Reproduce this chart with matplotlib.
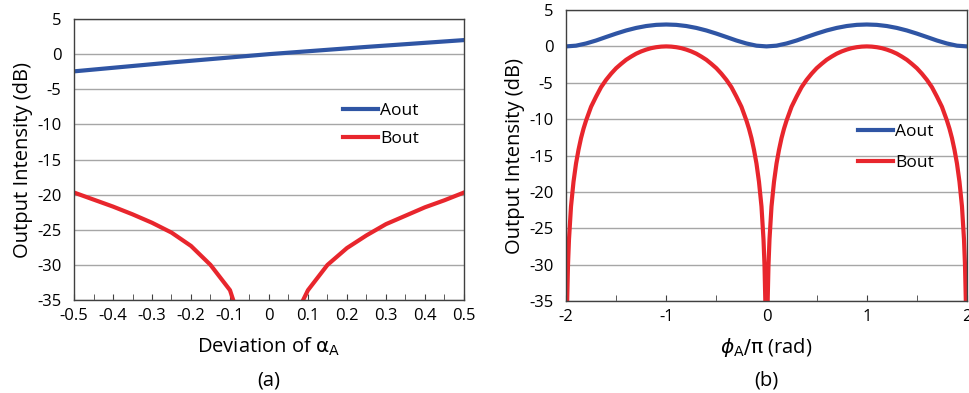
import numpy as np
import matplotlib
matplotlib.use("Agg")
import matplotlib.pyplot as plt
from matplotlib.ticker import MultipleLocator, FuncFormatter

plt.rcParams['font.family'] = ['Open Sans', 'DejaVu Sans']
plt.rcParams['axes.unicode_minus'] = False
plt.rcParams['mathtext.fontset'] = 'dejavusans'

BLUE = '#2f55a4'
RED = '#e8262d'

# ---- panel (a): deviation of alpha_A
dev_a = [-0.5, -0.25, 0.0, 0.25, 0.5]
aout_a = [-2.45, -1.18, 0.0, 1.03, 2.0]

dev_b = [-0.5, -0.45, -0.4, -0.35, -0.3, -0.25, -0.2, -0.15, -0.1, -0.09,
         0.0,
         0.085, 0.1, 0.15, 0.2, 0.25, 0.3, 0.35, 0.4, 0.45, 0.5]
bout_a = [-19.7, -20.7, -21.7, -22.8, -24.0, -25.4, -27.3, -30.0, -33.6, -35.3,
          -60.0,
          -35.3, -33.6, -30.0, -27.6, -25.8, -24.2, -23.0, -21.8, -20.8, -19.7]

# ---- panel (b): phase phi_A / pi
phi_a = [-2.0, -1.9, -1.8, -1.7, -1.6, -1.5, -1.4, -1.3, -1.2, -1.1, -1.0,
         -0.9, -0.8, -0.7, -0.6, -0.5, -0.4, -0.3, -0.2, -0.1, 0.0,
         0.1, 0.2, 0.3, 0.4, 0.5, 0.6, 0.7, 0.8, 0.9, 1.0,
         1.1, 1.2, 1.3, 1.4, 1.5, 1.6, 1.7, 1.8, 1.9, 2.0]
aout_b = [0.0, 0.1, 0.4, 0.81, 1.29, 1.76, 2.19, 2.54, 2.8, 2.96, 3.01,
          2.96, 2.8, 2.54, 2.19, 1.76, 1.29, 0.81, 0.4, 0.1, 0.0,
          0.1, 0.4, 0.81, 1.29, 1.76, 2.19, 2.54, 2.8, 2.96, 3.01,
          2.96, 2.8, 2.54, 2.19, 1.76, 1.29, 0.81, 0.4, 0.1, 0.0]

phi_b = [-2.0, -1.995, -1.99, -1.98, -1.97, -1.95, -1.925, -1.9, -1.875, -1.85,
         -1.825, -1.8, -1.75, -1.7, -1.65, -1.6, -1.55, -1.5, -1.45, -1.4,
         -1.35, -1.3, -1.25, -1.2, -1.15, -1.1, -1.05, -1.0,
         -0.95, -0.9, -0.85, -0.8, -0.75, -0.7, -0.65, -0.6, -0.55, -0.5,
         -0.45, -0.4, -0.35, -0.3, -0.25, -0.2, -0.175, -0.15, -0.125, -0.1,
         -0.075, -0.05, -0.03, -0.02, -0.01, -0.005, 0.0,
         0.005, 0.01, 0.02, 0.03, 0.05, 0.075, 0.1, 0.125, 0.15,
         0.175, 0.2, 0.25, 0.3, 0.35, 0.4, 0.45, 0.5, 0.55, 0.6,
         0.65, 0.7, 0.75, 0.8, 0.85, 0.9, 0.95, 1.0,
         1.05, 1.1, 1.15, 1.2, 1.25, 1.3, 1.35, 1.4, 1.45, 1.5,
         1.55, 1.6, 1.65, 1.7, 1.75, 1.8, 1.825, 1.85, 1.875, 1.9,
         1.925, 1.95, 1.97, 1.98, 1.99, 1.995, 2.0]
bout_b = [-60, -42, -36, -30, -26.5, -22, -18.6, -16.1, -14.2, -12.6,
          -11.3, -10.2, -8.3, -6.9, -5.6, -4.6, -3.75, -3.0, -2.4, -1.84,
          -1.4, -1.0, -0.69, -0.44, -0.24, -0.11, -0.03, 0.0,
          -0.03, -0.11, -0.24, -0.44, -0.69, -1.0, -1.4, -1.84, -2.4, -3.0,
          -3.75, -4.6, -5.6, -6.9, -8.3, -10.2, -11.3, -12.6, -14.2, -16.1,
          -18.6, -22, -26.5, -30, -36, -42, -60,
          -42, -36, -30, -26.5, -22, -18.6, -16.1, -14.2, -12.6,
          -11.3, -10.2, -8.3, -6.9, -5.6, -4.6, -3.75, -3.0, -2.4, -1.84,
          -1.4, -1.0, -0.69, -0.44, -0.24, -0.11, -0.03, 0.0,
          -0.03, -0.11, -0.24, -0.44, -0.69, -1.0, -1.4, -1.84, -2.4, -3.0,
          -3.75, -4.6, -5.6, -6.9, -8.3, -10.2, -11.3, -12.6, -14.2, -16.1,
          -18.6, -22, -26.5, -30, -36, -42, -60]

yticks = [5, 0, -5, -10, -15, -20, -25, -30, -35]

fig = plt.figure(figsize=(9.7, 3.93), dpi=100)
ax1 = fig.add_axes([0.0763, 0.2366, 0.402, 0.715])
ax2 = fig.add_axes([0.5835, 0.234, 0.4134, 0.7405])


def style(ax):
    ax.set_ylim(-35, 5)
    ax.set_yticks(yticks)
    ax.yaxis.grid(True, color='#a6a6a6', lw=1.0)
    ax.set_axisbelow(True)
    for s in ax.spines.values():
        s.set_color('#404040')
        s.set_linewidth(1.0)
    ax.tick_params(axis='both', which='both', direction='in', length=4,
                   color='#404040', labelsize=12, pad=6)
    ax.tick_params(axis='y', length=0, pad=9)
    ax.set_ylabel('Output Intensity (dB)', fontsize=14.5, labelpad=3)


ax1.plot(dev_a, aout_a, color=BLUE, lw=3, label='Aout')
ax1.plot(dev_b, bout_a, color=RED, lw=3, label='Bout')
style(ax1)
ax1.set_xlim(-0.5, 0.5)
ax1.xaxis.set_major_locator(MultipleLocator(0.1))
ax1.xaxis.set_minor_locator(MultipleLocator(0.05))
ax1.xaxis.set_major_formatter(FuncFormatter(lambda v, p: f'{round(v, 2):g}'))
ax1.set_xlabel(r'Deviation of $\mathrm{\alpha}_{\mathrm{A}}$', fontsize=14.5, labelpad=8)
ax1.legend(loc='upper left', bbox_to_anchor=(0.69, 0.70), frameon=False,
           borderpad=0, borderaxespad=0, handlelength=2.0, handletextpad=0.15,
           labelspacing=0.65, fontsize=12.5)

ax2.plot(phi_a, aout_b, color=BLUE, lw=3, label='Aout')
ax2.plot(phi_b, bout_b, color=RED, lw=3, label='Bout')
style(ax2)
ax2.set_xlim(-2, 2)
ax2.xaxis.set_major_locator(MultipleLocator(1))
ax2.xaxis.set_minor_locator(MultipleLocator(0.5))
ax2.xaxis.set_major_formatter(FuncFormatter(lambda v, p: f'{v:g}'))
ax2.set_xlabel(r'$\phi_{\mathrm{A}}/\mathrm{\pi}$ (rad)', fontsize=14.5, labelpad=8)
ax2.legend(loc='upper left', bbox_to_anchor=(0.728, 0.61), frameon=False,
           borderpad=0, borderaxespad=0, handlelength=2.0, handletextpad=0.15,
           labelspacing=0.9, fontsize=12.5)

fig.text(0.277, 0.02, '(a)', ha='center', fontsize=14.5)
fig.text(0.79, 0.02, '(b)', ha='center', fontsize=14.5)

fig.savefig('out.png', dpi=100)
